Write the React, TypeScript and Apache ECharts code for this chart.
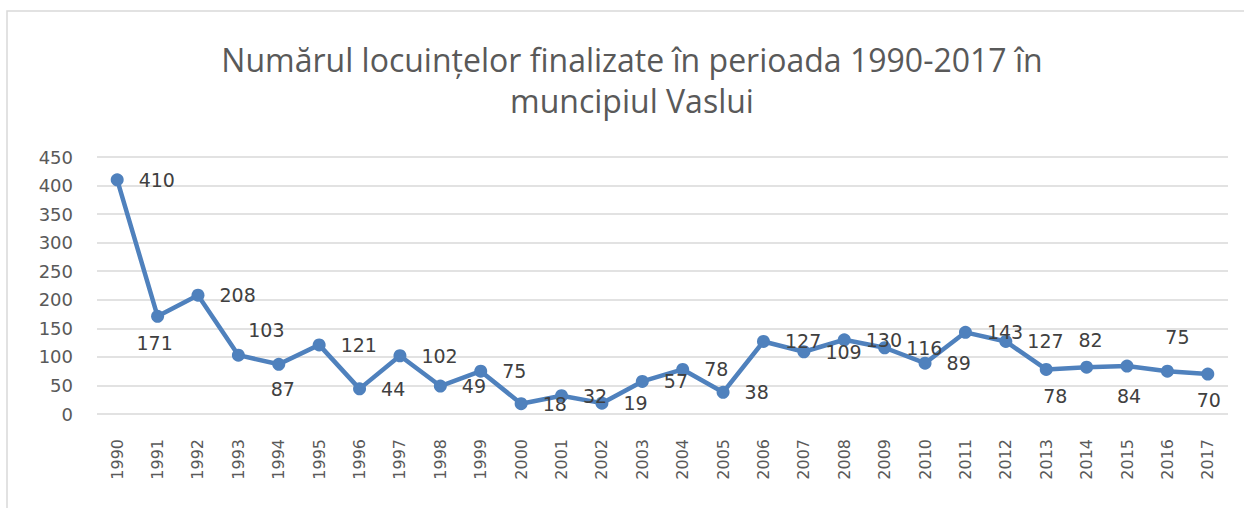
import React, { useEffect, useRef } from "react";
import * as echarts from "echarts";

const years = [
  "1990", "1991", "1992", "1993", "1994", "1995", "1996", "1997", "1998", "1999",
  "2000", "2001", "2002", "2003", "2004", "2005", "2006", "2007", "2008", "2009",
  "2010", "2011", "2012", "2013", "2014", "2015", "2016", "2017",
];
const dwellings = [
  410, 171, 208, 103, 87, 121, 44, 102, 49, 75,
  18, 32, 19, 57, 78, 38, 127, 109, 130, 116,
  89, 143, 127, 78, 82, 84, 75, 70,
];
const yTicks = { min: 0, max: 450, interval: 50 };
const titleText = "Numărul locuințelor finalizate în perioada 1990-2017 în\nmuncipiul Vaslui";

// label placement overrides (style only)
const labelPlacement: Record<string, { position: string; offset: [number, number] }> = {
  "1991": { position: "bottom", offset: [-3, 0] },
  "1993": { position: "top", offset: [28, 2] },
  "1994": { position: "bottom", offset: [4, -2] },
  "2013": { position: "bottom", offset: [9, 0] },
  "2014": { position: "top", offset: [4, 0] },
  "2015": { position: "bottom", offset: [2, 3] },
  "2016": { position: "top", offset: [10, -7] },
  "2017": { position: "bottom", offset: [1, -1] },
};

export default function App() {
  const ref = useRef<HTMLDivElement>(null);
  useEffect(() => {
    if (!ref.current) return;
    const chart = echarts.init(ref.current, null, { renderer: "svg" });
    const numFont = "DejaVu Sans";
    const seriesData = dwellings.map((v, i) => {
      const p = labelPlacement[years[i]];
      if (!p) return v;
      return {
        value: v,
        label: { position: p.position, offset: p.offset, distance: 11 },
      };
    });
    chart.setOption({
      animation: false,
      backgroundColor: "#ffffff",
      graphic: [
        {
          type: "rect",
          shape: { x: 7, y: 11, width: 1400, height: 700 },
          style: { fill: "none", stroke: "#d9d9d9", lineWidth: 1.5 },
          silent: true,
        },
        {
          type: "text",
          x: 632,
          y: 39,
          style: {
            text: titleText,
            textAlign: "center",
            textVerticalAlign: "top",
            fontFamily: "Open Sans",
            fontSize: 32,
            lineHeight: 41,
            fill: "#595959",
          },
        },
      ],
      grid: { left: 97, right: 16, top: 157, bottom: 94, containLabel: false },
      xAxis: {
        type: "category",
        data: years,
        boundaryGap: true,
        axisLine: { show: false },
        axisTick: { show: false },
        axisLabel: {
          rotate: 90,
          margin: 25,
          color: "#595959",
          fontFamily: numFont,
          fontSize: 16,
          interval: 0,
        },
      },
      yAxis: {
        type: "value",
        min: yTicks.min,
        max: yTicks.max,
        interval: yTicks.interval,
        axisLine: { show: false },
        axisTick: { show: false },
        axisLabel: {
          margin: 24,
          color: "#595959",
          fontFamily: numFont,
          fontSize: 18,
        },
        splitLine: { lineStyle: { color: "#d9d9d9", width: 1.5 } },
      },
      series: [
        {
          type: "line",
          data: seriesData,
          symbol: "circle",
          symbolSize: 13,
          lineStyle: { color: "#4f81bd", width: 4.5 },
          itemStyle: { color: "#4f81bd" },
          label: {
            show: true,
            position: "right",
            distance: 15,
            color: "#404040",
            fontFamily: numFont,
            fontSize: 19,
          },
        },
      ],
    });
    return () => chart.dispose();
  }, []);
  return (
    <div
      ref={ref}
      style={{ position: "absolute", left: 0, top: 0, width: 1244, height: 508 }}
    />
  );
}
